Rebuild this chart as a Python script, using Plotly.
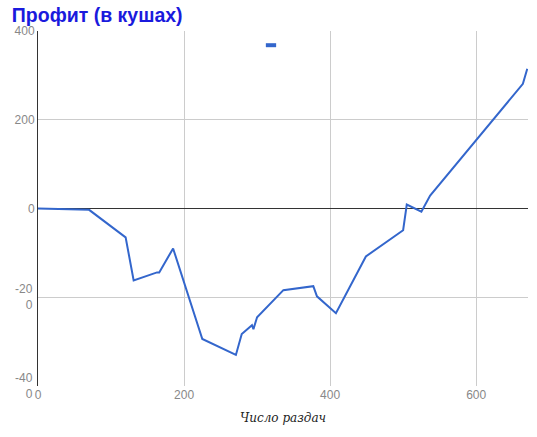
import plotly.graph_objects as go

hands = [0, 30, 70, 120, 131, 163, 166, 185, 225, 271, 279, 293, 295, 300,
         336, 377, 382, 408, 449, 500, 505, 525, 537, 664, 670]
profit = [0, -2, -3, -65, -162, -144, -144, -90, -294, -330, -283, -263, -272, -245,
          -184, -175, -198, -236, -108, -49, 9, -7, 29, 281, 315]

y_ticks = [400, 200, 0, -200, -400]
y_tick_text = ["400", "200", "0", "", ""]
# wrapped tick labels for -200 and -400 (as in the reference)
wrapped_vals = [-200, -400]
wrapped_text = ["-20<br>0", "-40<br>0"]
x_ticks = [0, 200, 400, 600]

tick_font = dict(family="Arial, Liberation Sans", size=12, color="#888888")

fig = go.Figure()
fig.add_trace(go.Scatter(x=hands, y=profit, mode="lines",
                         line=dict(color="#3366cc", width=2), showlegend=False))

annotations = [dict(x=0, y=v, xref="paper", yref="y", text=t, showarrow=False,
                    xanchor="right", yanchor="middle", xshift=-3, align="right",
                    font=tick_font)
               for v, t in zip(wrapped_vals, wrapped_text)]

fig.update_layout(
    width=537, height=437,
    margin=dict(l=38, r=9, t=31, b=51),
    plot_bgcolor="white", paper_bgcolor="white",
    title=dict(text="<b>Профит (в кушах)</b>", x=0.022, xref="container", xanchor="left",
               y=0.982, yanchor="top", pad=dict(t=0, l=0),
               font=dict(family="Arial, Liberation Sans", size=19.5, color="#1a1add")),
    xaxis=dict(range=[0, 671], tickvals=x_ticks, showgrid=True, gridcolor="#cccccc",
               zeroline=False, showline=False, ticks="", automargin=False,
               tickfont=tick_font,
               title=dict(text="<i>Число раздач</i>", standoff=12,
                          font=dict(family="DejaVu Serif, Liberation Serif", size=12, color="#222222"))),
    yaxis=dict(range=[-400, 400], tickvals=y_ticks, ticktext=y_tick_text, showgrid=True,
               gridcolor="#cccccc", zeroline=True, zerolinecolor="#333333", zerolinewidth=1,
               showline=True, linecolor="#333333", linewidth=1, ticks="", automargin=False,
               tickfont=tick_font),
    annotations=annotations,
    shapes=[dict(type="line", xref="paper", yref="paper", x0=0.465, x1=0.486, y0=0.96, y1=0.96,
                 line=dict(color="#3366cc", width=4))],
)

fig.write_html("out.html", config={"displayModeBar": False},
               post_script="document.body.style.margin='0';")
